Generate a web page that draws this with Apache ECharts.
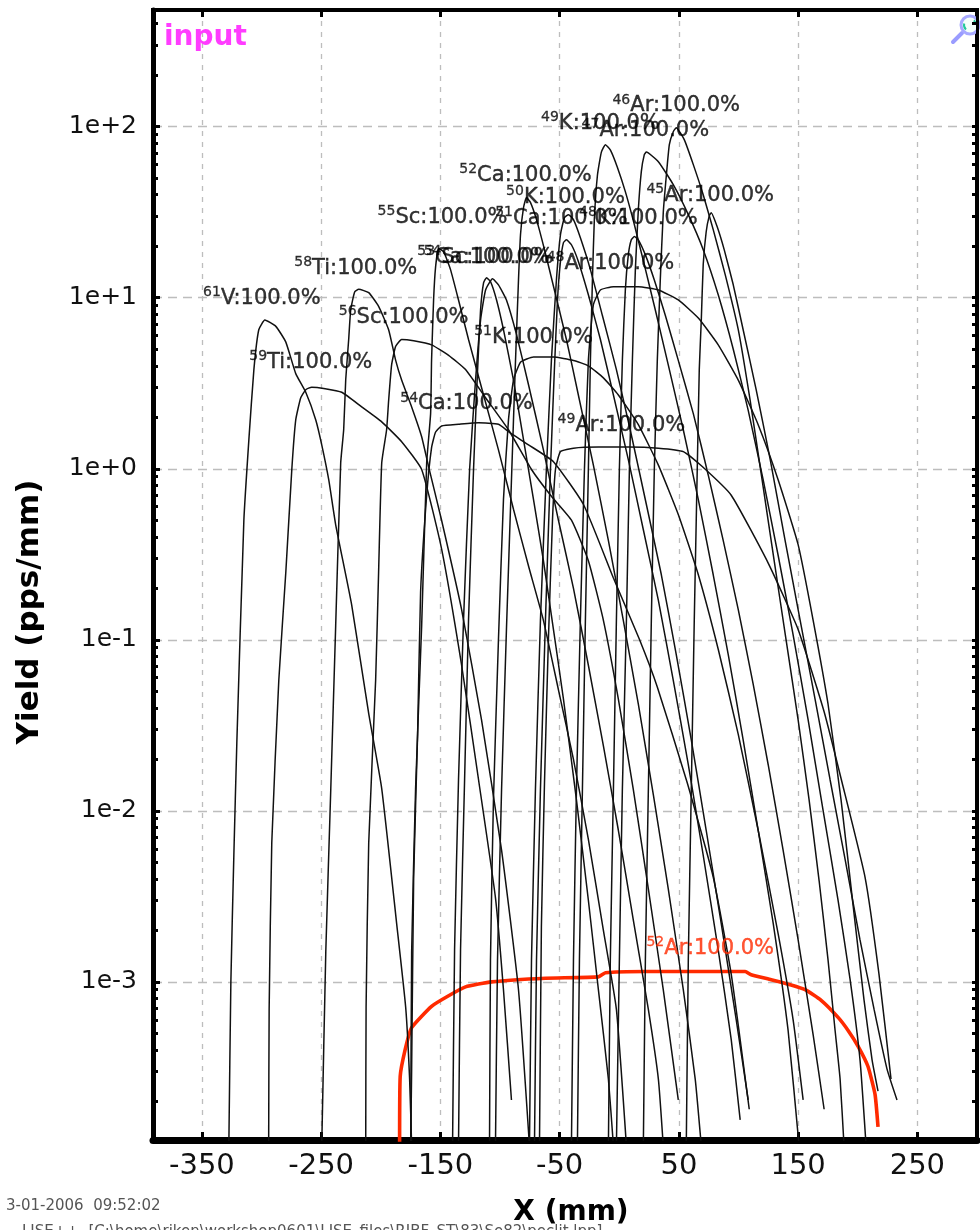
<!DOCTYPE html>
<html>
<head>
<meta charset="utf-8">
<script src="https://cdn.jsdelivr.net/npm/echarts@6/dist/echarts.min.js"></script>
<style>
  html, body { margin: 0; padding: 0; background: #fff; }
  #chart { width: 980px; height: 1230px; }
</style>
</head>
<body>
<div id="chart"></div>
<script>
// ---- axis ticks ----
const xTicks = [-350, -250, -150, -50, 50, 150, 250];
const yTicks = [1e-3, 1e-2, 1e-1, 1, 10, 100];

// ---- yield distributions, [X (mm), yield (pps/mm)] ----
const curve61V = [[-327.4,1.1e-4],[-325.7,1.0e-3],[-323.2,5.5e-3],[-320.7,0.025],[-314.8,0.50],[-310.6,1.48],[-306.4,3.8],[-302.3,6.5],[-297.2,7.4],[-288.0,6.8],[-279.6,5.5],[-271.3,3.6],[-262.9,2.8],[-254.5,1.93],[-249.5,1.38],[-243.6,0.86],[-237.8,0.47],[-224.4,0.16],[-210.1,0.037],[-199.2,0.0135],[-186.7,0.0022],[-179.1,7.1e-4],[-175.8,2.7e-4],[-174.1,1.1e-4]];
const curve59Ti = [[-294.0,1.1e-4],[-293.6,6.9e-4],[-291.4,0.0065],[-285.5,0.058],[-279.6,0.25],[-274.6,0.99],[-271.3,1.93],[-267.1,2.6],[-262.9,2.9],[-257.9,3.0],[-247.8,2.95],[-232.7,2.8],[-216.0,2.3],[-199.2,1.88],[-182.5,1.44],[-165.7,0.99],[-149.0,0.34],[-132.2,0.071],[-118.0,0.0152],[-103.8,0.0031],[-97.1,9.0e-4],[-90.4,2.04e-4]];
const curve58Ti = [[-249.5,1.1e-4],[-246.1,0.0015],[-241.9,0.0135],[-237.8,0.121],[-233.6,1.08],[-231.1,1.69],[-229.4,3.3],[-226.9,5.7],[-225.2,8.5],[-221.9,10.8],[-218.5,11.2],[-210.1,10.7],[-201.8,8.9],[-193.4,6.5],[-187.5,4.3],[-182.5,3.3],[-174.1,2.3],[-165.7,1.54],[-159.9,1.03],[-149.0,0.50],[-132.2,0.15],[-115.5,0.034],[-98.7,0.0059],[-84.5,9.0e-4],[-75.3,1.1e-4]];
const curve56Sc = [[-212.6,1.1e-4],[-212.3,7.1e-4],[-210.1,0.0065],[-204.3,0.058],[-201.8,0.25],[-199.2,1.08],[-195.1,1.69],[-193.4,2.5],[-190.9,4.05],[-187.5,5.2],[-182.5,5.7],[-172.4,5.6],[-157.4,5.3],[-143.1,4.6],[-128.9,3.8],[-112.1,2.6],[-92.9,1.69],[-73.6,0.99],[-56.9,0.69],[-40.1,0.50],[-25.9,0.29],[-13.3,0.13],[-0.75,0.045],[11.8,0.0133],[24.4,0.0035],[36.9,9.0e-4],[49.5,2.04e-4]];
const curve55Sc = [[-174.9,1.1e-4],[-174.1,0.0015],[-170.8,0.0135],[-165.7,0.121],[-161.5,1.08],[-158.2,2.1],[-157.4,4.3],[-155.7,9.7],[-154.0,15.2],[-151.5,19.4],[-147.3,18.6],[-141.5,14.6],[-134.8,9.7],[-126.4,5.7],[-113.8,2.7],[-101.3,1.29],[-88.7,0.58],[-76.1,0.27],[-63.6,0.13],[-51.0,0.051],[-38.4,0.020],[-25.9,0.0068],[-13.3,0.0020],[-2.4,6.9e-4],[6.0,1.1e-4]];
const curve54Ca = [[-174.9,1.1e-4],[-174.1,3.1e-4],[-172.4,0.0041],[-169.1,0.028],[-166.6,0.19],[-161.5,0.70],[-157.4,1.33],[-154.0,1.64],[-149.0,1.78],[-134.8,1.82],[-118.0,1.86],[-101.3,1.82],[-92.0,1.63],[-76.1,1.38],[-55.2,1.10],[-30.1,0.62],[-4.9,0.23],[16.8,0.101],[31.9,0.053],[57.0,0.0146],[78.8,0.0041],[93.9,0.00111],[109.0,1.8e-4]];
const curve54Sc = [[-139.8,1.1e-4],[-138.1,0.00154],[-134.8,0.0152],[-130.6,0.13],[-125.5,0.99],[-120.5,3.3],[-116.3,7.4],[-112.1,11.1],[-106.3,12.9],[-101.3,11.9],[-94.6,9.7],[-86.2,6.1],[-76.1,3.1],[-63.6,1.29],[-51.0,0.50],[-38.4,0.20],[-25.9,0.071],[-13.3,0.024],[-0.75,0.0077],[11.8,0.0023],[24.4,6.9e-4],[32.8,2.7e-4],[36.9,1.1e-4]];
const curve53Ca = [[-134.8,1.1e-4],[-133.1,0.00154],[-129.7,0.0152],[-126.4,0.13],[-122.2,0.99],[-118.8,3.8],[-116.3,8.5],[-113.8,12.2],[-111.3,13.1],[-107.9,12.4],[-102.9,9.7],[-97.1,6.5],[-88.7,3.3],[-80.3,1.48],[-71.9,0.66],[-63.6,0.29],[-55.2,0.115],[-46.8,0.045],[-35.9,0.0116],[-25.9,0.0030],[-17.5,9.0e-4],[-9.1,2.7e-4],[-4.9,1.1e-4]];
const curve52Ca = [[-103.8,1.1e-4],[-102.1,0.00134],[-98.7,0.0133],[-94.6,0.115],[-90.4,0.86],[-87.0,4.3],[-84.5,12.7],[-82.8,23.4],[-80.3,33.6],[-77.8,38.5],[-74.4,36],[-69.4,28.6],[-62.7,19.1],[-54.4,11.1],[-44.3,5.7],[-34.3,2.7],[-21.7,1.05],[-9.1,0.38],[3.4,0.13],[16.0,0.042],[28.6,0.0124],[41.1,0.0035],[53.7,9.0e-4],[63.7,2.7e-4],[68.8,1.1e-4]];
const curve51K = [[-108.8,1.1e-4],[-108.0,0.00134],[-105.5,0.0116],[-101.3,0.10],[-97.1,0.66],[-92.9,1.93],[-88.7,3.3],[-82.8,4.2],[-71.9,4.5],[-55.2,4.5],[-38.4,4.3],[-25.9,4.0],[-13.3,3.4],[-0.75,2.7],[16.0,1.81],[32.8,1.05],[49.5,0.54],[66.3,0.24],[83.0,0.088],[99.8,0.028],[116.5,0.0077],[133.3,0.0019],[145.8,6.0e-4],[154.2,2.04e-4]];
const curve51Ca = [[-71.1,1.1e-4],[-69.4,0.00134],[-66.1,0.0133],[-61.9,0.13],[-57.7,0.99],[-54.4,3.8],[-51.8,9.7],[-49.3,16.3],[-46.8,21],[-44.3,21.8],[-40.1,20.4],[-34.3,16.3],[-25.9,10.4],[-15.8,5.7],[-4.9,2.7],[7.6,1.13],[20.2,0.44],[32.8,0.17],[45.3,0.058],[57.9,0.0186],[70.4,0.0055],[83.0,0.00154],[93.9,4.6e-4],[101.4,1.56e-4]];
const curve50K = [[-75.3,1.1e-4],[-73.6,0.00134],[-70.3,0.0133],[-66.1,0.13],[-61.1,0.99],[-56.9,4.3],[-52.7,12.7],[-49.3,23.4],[-46.0,29.4],[-42.6,30.6],[-38.4,28.6],[-32.6,22.4],[-24.2,14.6],[-14.2,7.9],[-2.4,3.8],[10.1,1.58],[22.7,0.62],[35.3,0.24],[47.8,0.082],[60.4,0.026],[72.9,0.0077],[85.5,0.0022],[98.1,6.0e-4],[108.1,2.04e-4]];
const curve49Ar = [[-66.9,1.1e-4],[-65.3,0.0021],[-62.7,0.0146],[-59.4,0.101],[-56.0,0.50],[-53.5,0.99],[-49.3,1.26],[-38.4,1.32],[-17.5,1.34],[7.6,1.34],[32.8,1.32],[53.7,1.26],[69.6,1.03],[93.9,0.70],[125.0,0.28],[150.0,0.115],[171.8,0.038],[186.9,0.0146],[206.1,0.0041],[217.8,0.00111],[227.9,2.7e-4]];
const curve48Ar = [[-40.1,1.1e-4],[-38.4,0.00134],[-35.9,0.0133],[-32.6,0.13],[-29.2,0.99],[-25.9,4.3],[-21.7,9.1],[-15.8,11.1],[-4.9,11.6],[16.0,11.6],[32.8,11.1],[49.5,9.7],[66.3,7.6],[83.0,5.3],[99.8,3.3],[116.5,1.81],[133.3,0.86],[150.0,0.36],[162.6,0.13],[175.1,0.042],[186.0,0.0116],[196.1,0.0028],[205.3,7.8e-4],[212.0,3.5e-4],[217.0,2.3e-4]];
const curve49K = [[-35.1,1.1e-4],[-33.4,0.00134],[-30.9,0.0133],[-28.4,0.13],[-25.9,0.99],[-24.2,4.3],[-22.5,12.7],[-20.9,28.6],[-18.3,52],[-15.0,71],[-11.6,78.5],[-7.4,73],[-1.6,58],[5.1,41.7],[12.7,26.7],[21.0,15.6],[30.2,8.5],[41.1,4.05],[53.7,1.69],[66.3,0.66],[78.8,0.24],[91.4,0.082],[103.9,0.026],[116.5,0.0077],[129.1,0.0022],[141.6,5.2e-4],[150.8,1.1e-4]];
const curve48K = [[-9.1,1.1e-4],[-7.5,0.00134],[-4.9,0.0133],[-2.4,0.13],[0.1,0.99],[2.6,4.3],[5.1,11.1],[7.6,17.8],[10.1,21.8],[12.7,22.8],[16.0,21.8],[21.9,17.8],[29.4,12.7],[38.6,7.9],[49.5,4.3],[62.1,2.1],[74.6,0.92],[87.2,0.38],[99.8,0.15],[112.3,0.055],[124.9,0.0186],[137.4,0.0059],[150.0,0.00176],[162.6,4.9e-4],[171.8,1.8e-4]];
const curve47Ar = [[-2.4,1.1e-4],[0.1,0.00134],[2.6,0.0133],[6.0,0.13],[8.5,0.99],[11.0,4.3],[13.5,14.6],[16.0,32.7],[18.5,54.6],[21.0,68.6],[22.7,71],[32.8,62.4],[45.3,45.8],[57.9,30.6],[70.4,19.1],[83.0,10.4],[95.6,5.0],[108.1,2.2],[120.7,0.86],[133.3,0.31],[145.8,0.107],[158.4,0.034],[170.9,0.0101],[183.5,0.0030],[193.6,0.00103],[201.9,3.5e-4],[207.0,1.1e-4]];
const curve46Ar = [[20.2,1.1e-4],[21.9,0.00134],[24.4,0.0133],[26.9,0.13],[29.4,0.99],[31.9,4.3],[34.4,12.7],[36.9,31.4],[39.5,52],[42.0,78.5],[45.3,93.5],[47.8,98.7],[54.5,84],[62.1,60],[70.4,40],[78.8,25],[88.9,13.6],[99.8,6.5],[109.8,2.5],[119.8,0.86],[129.9,0.29],[139.9,0.10],[150.0,0.034],[159.2,0.0116],[167.6,0.0039],[175.1,0.00134],[181.0,5.2e-4],[185.2,2.7e-4],[188.5,1.1e-4]];
const curve45Ar = [[56.2,1.1e-4],[57.9,0.00134],[60.4,0.0133],[62.9,0.13],[65.4,0.99],[67.1,3.8],[68.8,7.4],[70.4,15.6],[72.9,24.3],[75.5,30.2],[77.1,31.4],[82.2,25.9],[88.0,19.1],[95.6,11.9],[103.9,6.5],[114.8,2.9],[126.6,1.13],[139.1,0.38],[151.7,0.13],[164.2,0.045],[176.8,0.0152],[189.4,0.0052],[201.9,0.00176],[213.7,6.9e-4],[224.5,3.1e-4],[232.9,2.04e-4]];
const curve52Ar = [[-184.2,1.1e-4],[-183.7,2.8e-4],[-179.6,4.0e-4],[-174.1,5.4e-4],[-157.4,7.2e-4],[-143.1,8.3e-4],[-128.9,9.35e-4],[-107.1,0.00100],[-61.9,0.00105],[-17.5,0.00107],[-11.6,0.00113],[21.9,0.00115],[105.6,0.00115],[110.6,0.00110],[127.4,0.00103],[144.1,9.6e-4],[155.9,9.0e-4],[169.3,7.8e-4],[183.5,6.2e-4],[191.9,5.2e-4],[200.3,4.2e-4],[208.6,3.2e-4],[214.5,2.2e-4],[217.0,1.42e-4]];

const blackCurves = [curve61V, curve59Ti, curve58Ti, curve56Sc, curve55Sc, curve54Ca, curve54Sc, curve53Ca,
  curve52Ca, curve51K, curve51Ca, curve50K, curve49Ar, curve48Ar, curve49K, curve48K, curve47Ar, curve46Ar, curve45Ar];

// ---- isotope tags: mass, element, X (mm), yield at the tag's foot ----
const peakLabels = [
  ['61','V',-299.7,8.28], ['59','Ti',-258.7,3.50], ['58','Ti',-221.0,12.4], ['56','Sc',-180.8,6.41],
  ['55','Sc',-148.2,24.7], ['54','Ca',-128.1,2.01], ['54','Sc',-109.6,14.4], ['53','Ca',-113.8,14.4],
  ['52','Ca',-78.6,43.4], ['51','K',-71.9,4.9], ['51','Ca',-48.5,24.3], ['50','K',-45.1,32.3],
  ['49','K',-15.8,87.4], ['49','Ar',1.8,1.50], ['48','Ar',-7.4,13.3], ['48','K',16.0,24.3],
  ['47','Ar',21.9,79.6], ['46','Ar',47.8,111], ['45','Ar',76.3,33.2]
];
const targetLabel = ['52','Ar',76.3,0.00131];

const X_MIN = -391, X_MAX = 300;
const Y_MIN = 1.19e-4, Y_MAX = 481;

// minor ticks at 1..9 within each decade
const yMinorTicks = [];
for (let d = -4; d <= 2; d++) {
  for (let k = 1; k <= 9; k++) {
    const v = k * Math.pow(10, d);
    if (v >= Y_MIN && v <= Y_MAX) yMinorTicks.push(v);
  }
}

const FONT = '"DejaVu Sans", "Liberation Sans", sans-serif';
const BLACK = '#111111';
const RED = '#ff2a00';

const chart = echarts.init(document.getElementById('chart'), null, { renderer: 'canvas' });

function expLabel(v) {
  const e = Math.round(Math.log10(v));
  return '1e' + (e < 0 ? '-' : '+') + Math.abs(e);
}

// isotope tag: small raised mass number followed by "El:100.0%"
const richTag = (color) => ({
  s: { fontSize: 14, fontFamily: FONT, color: color, verticalAlign: 'top', lineHeight: 14,
       textBorderColor: color, textBorderWidth: 0.3 },
  m: { fontSize: 21, fontFamily: FONT, color: color, lineHeight: 26,
       textBorderColor: color, textBorderWidth: 0.4 }
});

const lineBase = {
  type: 'line', xAxisIndex: 0, yAxisIndex: 0, symbol: 'none',
  smooth: 0.15, silent: true
};

const series = [];
series.push(Object.assign({}, lineBase, {
  data: curve52Ar, z: 2, lineStyle: { color: RED, width: 3.6 }
}));
blackCurves.forEach((c) => {
  series.push(Object.assign({}, lineBase, {
    data: c, z: 3, lineStyle: { color: BLACK, width: 1.5 }
  }));
});
series.push({
  type: 'scatter', xAxisIndex: 0, yAxisIndex: 0, symbolSize: 0, silent: true, z: 5,
  data: peakLabels.map(l => ({ value: [l[2], l[3]], mass: l[0], el: l[1] })),
  label: {
    show: true, position: 'top', distance: 0, color: '#000',
    formatter: (p) => '{s|' + p.data.mass + '}{m|' + p.data.el + ':100.0%}',
    rich: richTag('#000')
  }
});
series.push({
  type: 'scatter', xAxisIndex: 0, yAxisIndex: 0, symbolSize: 0, silent: true, z: 5,
  data: [{ value: [targetLabel[2], targetLabel[3]], mass: targetLabel[0], el: targetLabel[1] }],
  label: {
    show: true, position: 'top', distance: 0, color: RED,
    formatter: (p) => '{s|' + p.data.mass + '}{m|' + p.data.el + ':100.0%}',
    rich: richTag(RED)
  }
});

const gridDash = { color: '#bdbdbd', width: 1.3 };

const option = {
  animation: false,
  backgroundColor: '#ffffff',
  grid: { left: 153, right: 3, top: 10, bottom: 90, show: true, borderColor: '#000', borderWidth: 4, backgroundColor: '#fff' },
  xAxis: [
    {
      type: 'value', min: X_MIN, max: X_MAX, position: 'bottom',
      axisLine: { show: true, onZero: false, lineStyle: { color: '#000', width: 7 } },
      axisTick: { show: true, inside: true, length: 8, customValues: xTicks, lineStyle: { color: '#000', width: 3 } },
      axisLabel: { show: true, customValues: xTicks, fontSize: 29, fontFamily: FONT, color: '#111', margin: 12 },
      splitLine: { show: true, lineStyle: Object.assign({ type: [5, 6] }, gridDash) }
    },
    {
      type: 'value', min: X_MIN, max: X_MAX, position: 'top',
      axisLine: { show: true, onZero: false, lineStyle: { color: '#000', width: 4 } },
      axisTick: { show: true, inside: true, length: 7, customValues: xTicks, lineStyle: { color: '#000', width: 3 } },
      axisLabel: { show: false }, splitLine: { show: false }
    }
  ],
  yAxis: [
    {
      type: 'log', logBase: 10, min: Y_MIN, max: Y_MAX, position: 'left',
      axisLine: { show: true, onZero: false, lineStyle: { color: '#000', width: 5 } },
      axisTick: { show: true, inside: true, length: 7, customValues: yTicks, lineStyle: { color: '#000', width: 3 } },
      axisLabel: { show: true, customValues: yTicks, formatter: expLabel, fontSize: 25, fontFamily: FONT, color: '#111', margin: 16 },
      splitLine: { show: true, lineStyle: Object.assign({ type: [9, 6] }, gridDash) },
      minorTick: { show: false }
    },
    {
      type: 'log', logBase: 10, min: Y_MIN, max: Y_MAX, position: 'left',
      axisLine: { show: false, onZero: false },
      axisTick: { show: true, inside: true, length: 5, customValues: yMinorTicks, lineStyle: { color: '#000', width: 3 } },
      axisLabel: { show: false }, splitLine: { show: false }
    },
    {
      type: 'log', logBase: 10, min: Y_MIN, max: Y_MAX, position: 'right',
      axisLine: { show: true, onZero: false, lineStyle: { color: '#000', width: 3 } },
      axisTick: { show: true, inside: true, length: 5, customValues: yMinorTicks, lineStyle: { color: '#000', width: 3 } },
      axisLabel: { show: false }, splitLine: { show: false }
    }
  ],
  series: series,
  graphic: [
    { type: 'text', left: 164, top: 24, z: 10,
      style: { text: 'input', fill: '#ff3cff', font: 'bold 28px ' + FONT } },
    { type: 'text', x: 30, y: 612, rotation: Math.PI / 2, z: 10,
      style: { text: 'Yield (pps/mm)', fill: '#000', font: 'bold 31px ' + FONT, align: 'center', verticalAlign: 'middle' } },
    { type: 'text', x: 571, y: 1213, z: 10,
      style: { text: 'X (mm)', fill: '#000', font: 'bold 28px ' + FONT, align: 'center', verticalAlign: 'middle' } },
    { type: 'text', x: 6, y: 1206, z: 10,
      style: { text: '3-01-2006  09:52:02', fill: '#555', font: '15px ' + FONT, align: 'left', verticalAlign: 'middle' } },
    { type: 'text', x: 22, y: 1232, z: 10,
      style: { text: 'LISE++  [C:\\home\\riken\\workshop0601\\LISE_files\\RIBF_ST\\83\\Se82\\peclit.lpp]', fill: '#555', font: '15px ' + FONT, align: 'left', verticalAlign: 'middle' } },
    // zoom icon in the upper right corner
    { type: 'group', x: 968, y: 26, z: 10, children: [
      { type: 'line', shape: { x1: -6, y1: 7, x2: -15, y2: 16 }, style: { stroke: '#9a9cff', lineWidth: 4, lineCap: 'round' } },
      { type: 'circle', shape: { cx: 2, cy: -1, r: 9 }, style: { fill: '#f4fffa', stroke: '#a7a9ff', lineWidth: 3 } },
      { type: 'arc', shape: { cx: 2, cy: -1, r: 6, startAngle: 2.3, endAngle: 3.4 }, style: { stroke: '#22c89a', lineWidth: 2, fill: null } },
      { type: 'arc', shape: { cx: 2, cy: -1, r: 6, startAngle: 5.4, endAngle: 6.3 }, style: { stroke: '#22c89a', lineWidth: 2, fill: null } }
    ]}
  ]
};

chart.setOption(option);
</script>
</body>
</html>
